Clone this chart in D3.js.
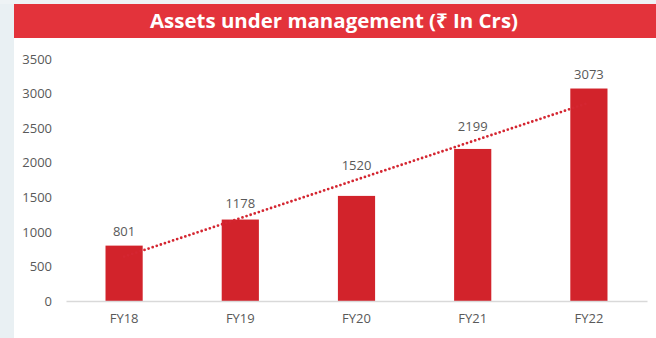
<!DOCTYPE html>
<html>
<head>
<meta charset="utf-8">
<script src="https://cdn.jsdelivr.net/npm/d3@7"></script>
<style>
  html, body { margin: 0; padding: 0; background: #e9f0f3; }
  svg { display: block; }
</style>
</head>
<body>
<svg id="chart" width="656" height="338"></svg>
<script>
// Assets under management by fiscal year (₹ crore)
const categories = ["FY18", "FY19", "FY20", "FY21", "FY22"];
const aum = [801, 1178, 1520, 2199, 3073];
const yTicks = [0, 500, 1000, 1500, 2000, 2500, 3000, 3500];
const title = "Assets under management (₹ In Crs)";

const W = 656, H = 338;
const svg = d3.select("#chart");

// page background and white panel
svg.append("rect").attr("x", 0).attr("y", 0).attr("width", W).attr("height", H).attr("fill", "#e9f0f3");
svg.append("rect").attr("x", 0).attr("y", 0).attr("width", W).attr("height", 4).attr("fill", "#eef3f5");
svg.append("rect").attr("x", 14).attr("y", 38).attr("width", W - 14).attr("height", H - 38).attr("fill", "#ffffff");

// title band
svg.append("rect").attr("x", 14).attr("y", 4).attr("width", W - 14).attr("height", 34).attr("fill", "#e3333b");
svg.append("text")
  .attr("x", 334).attr("y", 27.5)
  .attr("text-anchor", "middle")
  .attr("fill", "#ffffff")
  .attr("font-family", "'Open Sans', 'Noto Sans', sans-serif")
  .attr("font-weight", 700)
  .attr("font-size", 20)
  .attr("textLength", 368)
  .attr("lengthAdjust", "spacingAndGlyphs")
  .text(title);

// scales
const x = d3.scaleBand().domain(categories).range([66, 647]).paddingInner(0.68).paddingOuter(0.34);
const y = d3.scaleLinear().domain([0, 3500]).range([301, 59]);

const font = "'Open Sans', 'Noto Sans', sans-serif";
const grey = "#595959";

// y axis labels (no line, no ticks)
const yAxis = d3.axisLeft(y).tickValues(yTicks).tickFormat(d3.format("d")).tickSize(0).tickPadding(0);
const gy = svg.append("g").attr("transform", "translate(52,0)").call(yAxis);
gy.select(".domain").remove();
gy.selectAll("text").attr("font-family", font).attr("font-size", 13).attr("fill", grey);

// bars
svg.append("g").selectAll("rect").data(aum).join("rect")
  .attr("x", (d, i) => x(categories[i]))
  .attr("y", d => y(d))
  .attr("width", x.bandwidth())
  .attr("height", d => y(0) - y(d))
  .attr("fill", "#d2232b");

// x axis
const xAxis = d3.axisBottom(x).tickSize(0).tickPadding(13);
const gx = svg.append("g").attr("transform", `translate(0,${y(0)})`).call(xAxis);
gx.select(".domain").attr("stroke", "#d9d9d9").attr("stroke-width", 1.5);
gx.selectAll("text").attr("font-family", font).attr("font-size", 13).attr("fill", grey);

// linear trendline (least squares over the series)
const n = aum.length;
const xs = d3.range(n);
const mx = d3.mean(xs), my = d3.mean(aum);
const slope = d3.sum(xs, i => (i - mx) * (aum[i] - my)) / d3.sum(xs, i => (i - mx) ** 2);
const icpt = my - slope * mx;
const trendAt = i => icpt + slope * i;
const cx = i => x(categories[i]) + x.bandwidth() / 2;
const trend = [[cx(0), y(trendAt(0))], [cx(n - 1), y(trendAt(n - 1))]];
svg.append("path")
  .attr("d", d3.line()(trend))
  .attr("fill", "none")
  .attr("stroke", "#d42631")
  .attr("stroke-width", 2.8)
  .attr("stroke-linecap", "round")
  .attr("stroke-dasharray", "0 4.3");

// value labels, lifted clear of both the bar top and the trendline
svg.append("g").selectAll("text").data(aum).join("text")
  .attr("x", (d, i) => cx(i))
  .attr("y", (d, i) => Math.min(y(d), y(trendAt(i))) - 10)
  .attr("text-anchor", "middle")
  .attr("font-family", font)
  .attr("font-size", 13)
  .attr("fill", grey)
  .text(d => d);
</script>
</body>
</html>
